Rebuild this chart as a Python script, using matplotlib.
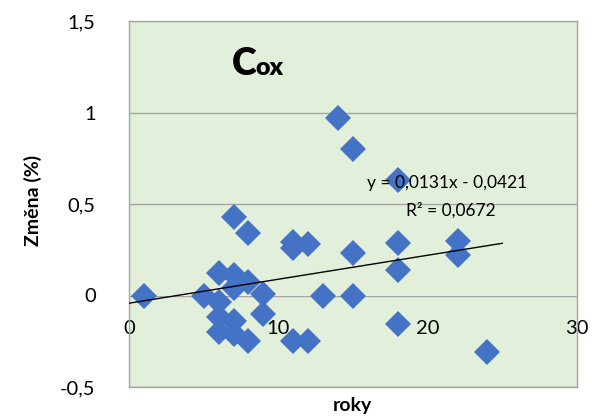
import matplotlib
matplotlib.use("Agg")
import matplotlib.pyplot as plt
import numpy as np

plt.rcParams['font.family'] = ['Lato', 'DejaVu Sans']

# data
roky = [1, 5, 6, 6, 6, 6, 7, 7, 7, 7, 7, 8, 8, 8, 9, 9, 11, 11, 11, 12, 12,
        13, 14, 15, 15, 15, 18, 18, 18, 18, 22, 22, 24]
zmena = [0.0, 0.0, 0.125, -0.035, -0.115, -0.20, 0.11, 0.04, -0.14, -0.21, 0.43,
         0.34, 0.075, -0.25, 0.01, -0.10, 0.29, 0.26, -0.25, 0.28, -0.25,
         0.0, 0.97, 0.80, 0.23, 0.0, 0.63, 0.285, 0.14, -0.155, 0.30, 0.22, -0.31]
trend_slope = 0.0131
trend_intercept = -0.0421
trend_range = [0, 25]
x_ticks = [0, 10, 20, 30]
y_ticks = [-0.5, 0, 0.5, 1, 1.5]
y_ticklabels = ['-0,5', '0', '0,5', '1', '1,5']
eq_text = 'y = 0,0131x - 0,0421'
r2_text = 'R² = 0,0672'

fig = plt.figure(figsize=(5.92, 4.2), dpi=100)
ax = fig.add_axes([129/592, 1-387/420, (577-129)/592, (387-21)/420])
ax.set_facecolor('#E2EFDA')
ax.set_xlim(0, 30)
ax.set_ylim(-0.5, 1.5)

grid_c = '#A5A5A5'
for s in ax.spines.values():
    s.set_color(grid_c)
    s.set_linewidth(1.0)

ax.set_yticks(y_ticks)
ax.set_yticklabels(y_ticklabels)
ax.tick_params(axis='y', length=0, pad=24, labelsize=14.5)
ax.set_xticks(x_ticks)
ax.tick_params(axis='x', length=0, labelbottom=False)
ax.yaxis.grid(True, color=grid_c, linewidth=1.0)
ax.xaxis.grid(False)
ax.set_axisbelow(True)

# x axis crossing at y=0
yfrac = (0 - (-0.5)) / 2.0
sec = ax.secondary_xaxis(yfrac)
sec.set_xticks(x_ticks)
sec.set_xticklabels([str(t) for t in x_ticks])
sec.spines['bottom'].set_visible(False)
sec.tick_params(axis='x', length=0, pad=18, labelsize=14.5)

ax.plot(roky, zmena, linestyle='none', marker='D', markersize=13.5,
        color='#4472C4', markeredgewidth=0, zorder=3)

tx = np.array(trend_range, dtype=float)
ax.plot(tx, trend_slope * tx + trend_intercept, color='black', linewidth=1.0, zorder=4)

ax.text(447/592, 1-183/420, eq_text, transform=fig.transFigure, ha='center',
        va='center', fontsize=12.5, zorder=5)
ax.text(451/592, 1-210/420, r2_text, transform=fig.transFigure, ha='center',
        va='center', fontsize=12.5, zorder=5)

fig.text(232/592, 1-75/420, 'C', fontsize=27, fontweight='heavy', ha='left', va='baseline')
fig.text(255/592, 1-75/420, 'ox', fontsize=18, fontweight='heavy', ha='left', va='baseline')

fig.text(33/592, 1-200/420, 'Změna (%)', rotation=90, fontsize=14, fontweight='bold',
         ha='center', va='center')
fig.text(352/592, 1-405/420, 'roky', fontsize=14, fontweight='bold', ha='center', va='center')

fig.savefig('out.png', dpi=100)
